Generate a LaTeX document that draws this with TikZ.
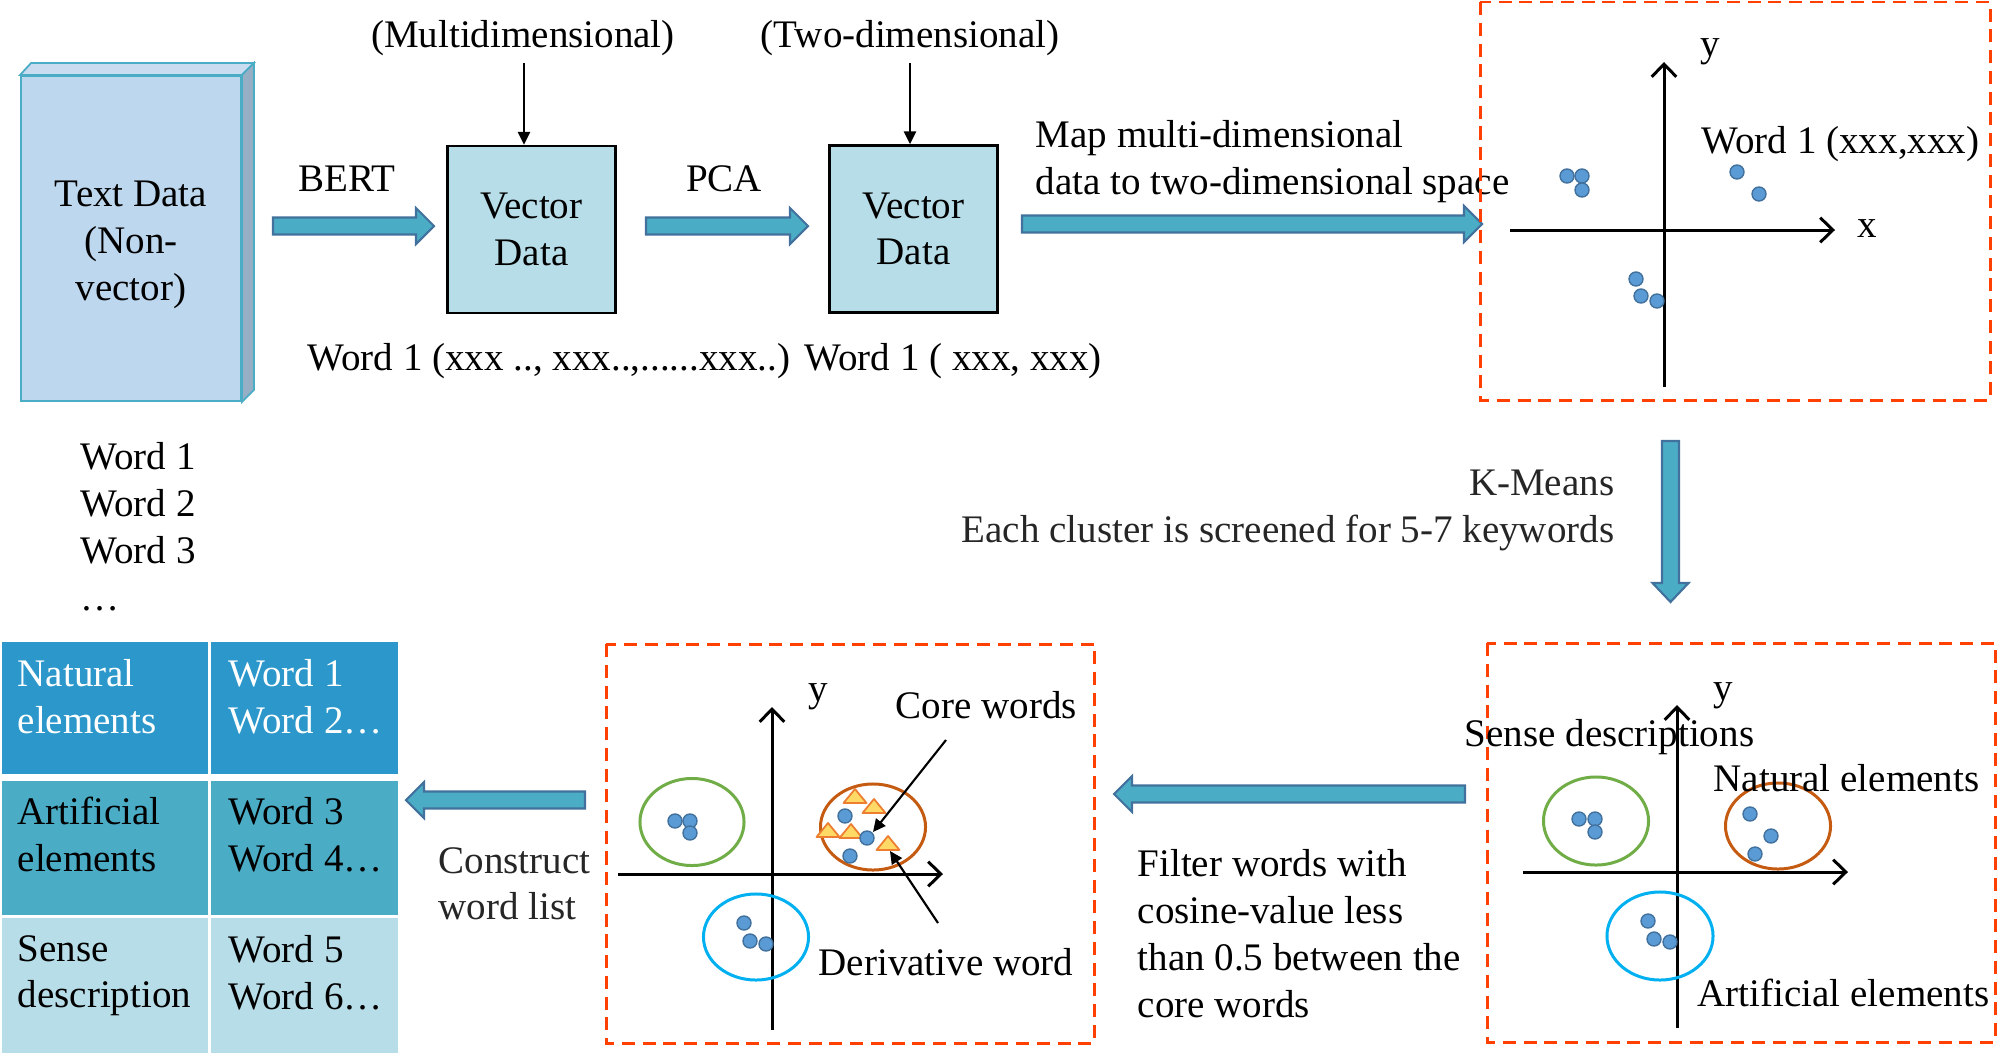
\documentclass[tikz,border=0pt]{standalone}
\usepackage{fontspec}
\setmainfont{Liberation Serif}
\usetikzlibrary{arrows.meta,calc}
\definecolor{arrfill}{HTML}{4BACC6}
\definecolor{arrdraw}{HTML}{41719C}
\definecolor{vecfill}{HTML}{B7DDE8}
\definecolor{frontf}{HTML}{BDD7EE}
\definecolor{topf}{HTML}{CADCF0}
\definecolor{sidef}{HTML}{97AFC4}
\definecolor{boxedge}{HTML}{4BACC6}
\definecolor{dashred}{HTML}{FF4000}
\definecolor{dotf}{HTML}{5B9BD5}
\definecolor{dotd}{HTML}{41719C}
\definecolor{gring}{HTML}{70AD47}
\definecolor{oring}{HTML}{C55A11}
\definecolor{bring}{HTML}{00B0F0}
\definecolor{trif}{HTML}{FFD966}
\definecolor{trid}{HTML}{ED7D31}
\definecolor{rowa}{HTML}{2B97CA}
\definecolor{rowb}{HTML}{4BACC6}
\definecolor{rowc}{HTML}{B7DDE8}
\definecolor{softblack}{HTML}{262626}
% horizontal block arrow: start, tip, signed head length
\newcommand{\mkhblock}[3]{\draw[blockarrow] ($(#1)+(0,-8.5)$) -- ($(#2)+({-(#3)},-8.5)$) -- ($(#2)+({-(#3)},-18)$) -- (#2) -- ($(#2)+({-(#3)},18)$) -- ($(#2)+({-(#3)},8.5)$) -- ($(#1)+(0,8.5)$) -- cycle;}
% vertical block arrow
\newcommand{\mkvblock}[3]{\draw[blockarrow] ($(#1)+(-8.5,0)$) -- ($(#2)+(-8.5,{-(#3)})$) -- ($(#2)+(-18,{-(#3)})$) -- (#2) -- ($(#2)+(18,{-(#3)})$) -- ($(#2)+(8.5,{-(#3)})$) -- ($(#1)+(8.5,0)$) -- cycle;}
\newcommand{\mktri}[2]{\draw[wtri] (#1-11.5,#2+7) -- (#1+11.5,#2+7) -- (#1,#2-7) -- cycle;}
\newcommand{\mkdot}[2]{\draw[wdot] (#1,#2) circle[radius=0.07cm];}
\begin{document}
\begin{tikzpicture}[x=0.01cm,y=-0.01cm,
  txt/.style={font=\fontsize{11.1pt}{13.3pt}\selectfont, inner sep=0pt},
  blockarrow/.style={fill=arrfill, draw=arrdraw, line width=0.6pt, line join=miter},
  vecbox/.style={txt, draw=black, line width=0.75pt, fill=vecfill, minimum width=1.68cm, minimum height=1.67cm, align=center},
  frontface/.style={draw=boxedge, fill=frontf, line width=0.5pt, minimum width=2.2cm, minimum height=3.25cm, inner sep=0pt},
  dashedbox/.style={draw=dashred, line width=0.85pt, dash pattern=on 3.7pt off 2.2pt},
  axis/.style={line width=0.85pt, -{Straight Barb[length=3.6pt,width=7pt]}},
  thinarrow/.style={line width=0.6pt, -{Triangle[length=3.6pt,width=3.4pt]}},
  wdot/.style={fill=dotf, draw=dotd, line width=0.4pt},
  wtri/.style={fill=trif, draw=trid, line width=0.5pt, line join=round},
  ring/.style={line width=0.85pt}]
\fill[white] (0,0) rectangle (2000,1057);
\useasboundingbox (0,0) rectangle (2000,1057);

% ---------- Text data 3D box ----------
\node[frontface] (textdata) at (131,238.5) {};
\draw[fill=topf, draw=boxedge, line width=0.5pt] (textdata.north west) -- ++(11,-12) -- ($(textdata.north east)+(12,-12)$) -- (textdata.north east) -- cycle;
\draw[fill=sidef, draw=boxedge, line width=0.5pt] (textdata.north east) -- ++(12,-12) -- ($(textdata.south east)+(12,-12)$) -- (textdata.south east) -- cycle;
\node[txt, align=center] (textdatalabel) at (131,245) {Text Data\\(Non-\\vector)};

\node[txt, anchor=north west, align=left] (wordlist) at (80,442) {Word 1\\Word 2\\Word 3\\…};

% ---------- vector boxes ----------
\node[vecbox] (vec1) at (531.5,229.5) {Vector\\Data};
\node[vecbox] (vec2) at (913.5,229) {Vector\\Data};

\node[txt] (multi) at (523,38) {(Multidimensional)};
\node[txt] (twodim) at (910,38) {(Two-dimensional)};
\coordinate (m0) at (524,63);
\coordinate (t0) at (910,63);
\draw[thinarrow] (m0) -- (m0 |- vec1.north);
\draw[thinarrow] (t0) -- (t0 |- vec2.north);

\node[txt] (bert) at (347,178.5) {BERT};
\node[txt] (pca) at (724,178.5) {PCA};

\coordinate (b1) at (273,226);
\coordinate (b2) at (434,226);
\mkhblock{b1}{b2}{18}
\coordinate (p1) at (646,226);
\coordinate (p2) at (808,226);
\mkhblock{p1}{p2}{18}
\coordinate (mp1) at (1022,224);
\coordinate (mp2) at (1482,224);
\mkhblock{mp1}{mp2}{18}

\node[txt, anchor=base west] (w1multi) at (307,370) {Word 1 (xxx .., xxx..,......xxx..)};
\node[txt, anchor=base west] (w1two) at (804,370) {Word 1 ( xxx, xxx)};

\node[txt, anchor=north west, align=left] (maptext) at (1035,119.5) {Map multi-dimensional\\data to two-dimensional space};

% ---------- top-right plot ----------
\draw[dashedbox] (1480,2) rectangle (1990,400);
\coordinate (ty0) at (1664,387);
\coordinate (ty1) at (1664,62);
\coordinate (tx0) at (1510,230);
\coordinate (tx1) at (1835,230);
\draw[axis] (ty0) -- (ty1);
\draw[axis] (tx0) -- (tx1);
\node[txt] (ty) at (1710,52) {y};
\node[txt] (tx) at (1867,229) {x};
\node[txt, anchor=base west] (tword) at (1701,153) {Word 1 (xxx,xxx)};
\mkdot{1567}{176}\mkdot{1582}{176}\mkdot{1582}{190}
\mkdot{1737}{172}\mkdot{1759}{194}
\mkdot{1636}{279}\mkdot{1641}{296}\mkdot{1657}{301}

% ---------- K-Means ----------
\coordinate (k1) at (1670.5,441);
\coordinate (k2) at (1670.5,602);
\mkvblock{k1}{k2}{19}
\node[txt, anchor=north east, align=right, text=softblack] (kmeans) at (1615,469.5) {K-Means\\Each cluster is screened for 5-7 keywords};

% ---------- bottom-right plot ----------
\draw[dashedbox] (1487,643) rectangle (1995,1042);
\coordinate (ry0) at (1677,1028);
\coordinate (ry1) at (1677,705);
\coordinate (rx0) at (1523,872);
\coordinate (rx1) at (1848,872);
\draw[axis] (ry0) -- (ry1);
\draw[axis] (rx0) -- (rx1);
\node[txt] (ry) at (1723,696) {y};
\draw[ring, draw=gring] (1596,821) ellipse[x radius=0.525cm, y radius=0.44cm];
\draw[ring, draw=oring] (1778,826) ellipse[x radius=0.525cm, y radius=0.43cm];
\draw[ring, draw=bring] (1660,936) ellipse[x radius=0.53cm, y radius=0.44cm];
\mkdot{1579}{819}\mkdot{1595}{819}\mkdot{1595}{832}
\mkdot{1750}{814}\mkdot{1771}{836}\mkdot{1755}{854}
\mkdot{1648}{921}\mkdot{1654}{939}\mkdot{1670}{942}
\node[txt, anchor=base west] (sense) at (1464,746) {Sense descriptions};
\node[txt, anchor=base west] (natural) at (1713,791) {Natural elements};
\node[txt, anchor=base west] (artificial) at (1697,1006) {Artificial elements};

% ---------- filter arrow ----------
\coordinate (f1) at (1465,794);
\coordinate (f2) at (1114,794);
\mkhblock{f1}{f2}{-18}
\node[txt, anchor=north west, align=left] (filter) at (1137,849) {Filter words with\\cosine-value less\\than 0.5 between the\\core words};

% ---------- bottom-middle plot ----------
\draw[dashedbox] (606,644) rectangle (1094,1043);
\coordinate (my0) at (772,1030);
\coordinate (my1) at (772,707);
\coordinate (mx0) at (618,874);
\coordinate (mx1) at (943,874);
\draw[axis] (my0) -- (my1);
\draw[axis] (mx0) -- (mx1);
\node[txt] (my) at (818,697) {y};
\draw[ring, draw=gring] (692,822) ellipse[x radius=0.52cm, y radius=0.435cm];
\draw[ring, draw=oring] (873,827) ellipse[x radius=0.525cm, y radius=0.43cm];
\draw[ring, draw=bring] (756,937) ellipse[x radius=0.525cm, y radius=0.43cm];
\mkdot{675}{821}\mkdot{690}{821}\mkdot{690}{833}
\mkdot{744}{923}\mkdot{750}{941}\mkdot{766}{944}
\mktri{855}{796}\mktri{874}{806}\mktri{828}{830}\mktri{851}{831}\mktri{888}{843}
\mkdot{845}{816}\mkdot{867}{838}\mkdot{850}{856}
\node[txt, anchor=base west] (core) at (895,718) {Core words};
\node[txt, anchor=base west] (deriv) at (818,975) {Derivative word};
\coordinate (c0) at (946,740);
\coordinate (c1) at (873,832);
\coordinate (d0) at (938,923);
\coordinate (d1) at (890,851);
\draw[thinarrow] (c0) -- (c1);
\draw[thinarrow] (d0) -- (d1);

% ---------- construct arrow ----------
\coordinate (cs1) at (585,800);
\coordinate (cs2) at (406,800);
\mkhblock{cs1}{cs2}{-18}
\node[txt, anchor=north west, align=left, text=softblack] (construct) at (438,846.5) {Construct\\word list};

% ---------- table ----------
\fill[rowa] (2,642) rectangle (208,774);
\fill[rowa] (211,642) rectangle (398,774);
\fill[rowb] (2,781) rectangle (208,915);
\fill[rowb] (211,781) rectangle (398,915);
\fill[rowc] (2,918) rectangle (208,1053);
\fill[rowc] (211,918) rectangle (398,1053);
\node[txt, anchor=north west, align=left, text=white] (nat) at (17,658.5) {Natural\\elements};
\node[txt, anchor=north west, align=left, text=white] (natw) at (228,658.5) {Word 1\\Word 2…};
\node[txt, anchor=north west, align=left] (art) at (17,796.5) {Artificial\\elements};
\node[txt, anchor=north west, align=left] (artw) at (228,796.5) {Word 3\\Word 4…};
\node[txt, anchor=north west, align=left] (sen) at (17,934.5) {Sense\\description};
\node[txt, anchor=north west, align=left] (senw) at (228,934.5) {Word 5\\Word 6…};
\end{tikzpicture}
\end{document}
